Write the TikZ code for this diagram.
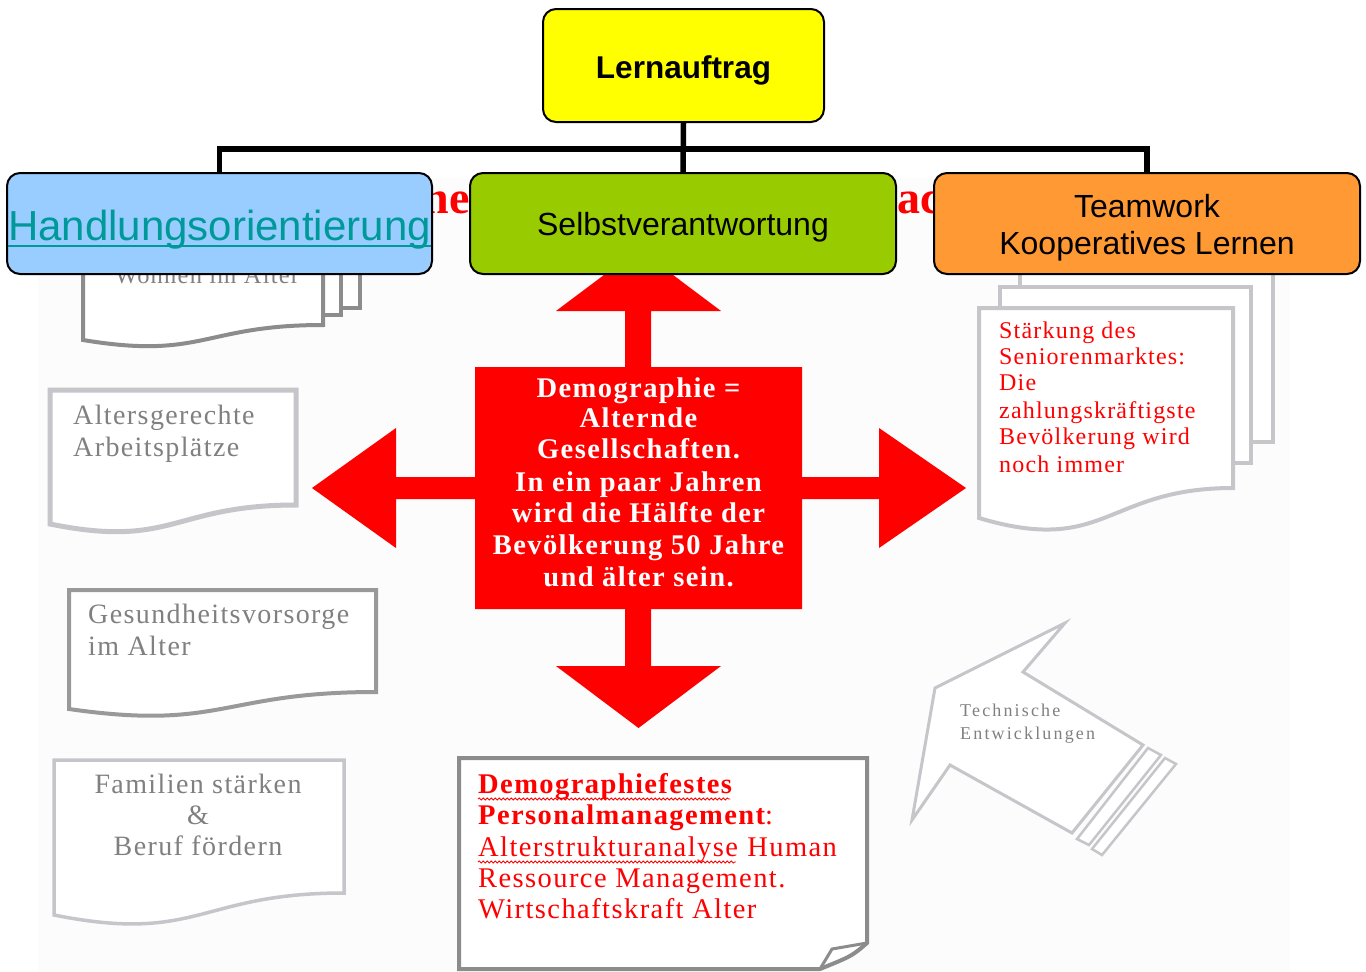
\documentclass[tikz,border=0pt]{standalone}
\usepackage{fontspec}
\setmainfont{Liberation Serif}
\newfontfamily\arialfont{Liberation Sans}
\newfontfamily\docfont[LetterSpace=5]{Liberation Serif}
\newfontfamily\techfont[LetterSpace=12]{Liberation Serif}
\newfontfamily\crossfont[LetterSpace=5]{Liberation Serif}
\usetikzlibrary{decorations.pathmorphing}
\definecolor{bgc}{RGB}{251,252,251}
\definecolor{lernyellow}{RGB}{255,255,0}
\definecolor{handblue}{RGB}{153,204,255}
\definecolor{selbgreen}{RGB}{153,204,0}
\definecolor{teamorange}{RGB}{255,153,51}
\definecolor{tealtext}{RGB}{0,153,153}
\definecolor{crossred}{RGB}{255,0,0}
\definecolor{gdark}{RGB}{140,140,140}
\definecolor{glight}{RGB}{198,198,202}
\definecolor{gmed}{RGB}{153,153,153}
\definecolor{gtext}{RGB}{128,128,128}
\begin{document}
\begin{tikzpicture}[x=1pt,y=-1pt,
  orgbox/.style={draw=black, line width=2pt, rounded corners=13pt, inner sep=0pt},
  tree/.style={draw=black, line width=5.5pt},
  orgtext/.style={font=\arialfont\fontsize{32pt}{37pt}\selectfont, inner sep=0pt, anchor=base},
  doctext/.style={font=\docfont\fontsize{28pt}{31pt}\selectfont, inner sep=0pt, text=gtext},
  redtext/.style={font=\docfont\fontsize{28.5pt}{31pt}\selectfont, inner sep=0pt, text=crossred, anchor=base west},
  smalltext/.style={font=\docfont\fontsize{24pt}{27pt}\selectfont, inner sep=0pt, text=crossred, anchor=base west},
  techtext/.style={font=\techfont\fontsize{18pt}{23pt}\selectfont, inner sep=0pt, text=gtext, anchor=base west},
  crosstext/.style={font=\crossfont\bfseries\fontsize{28.5pt}{31.5pt}\selectfont, inner sep=0pt, text=white, anchor=base},
  titlebit/.style={font=\bfseries\fontsize{46pt}{50pt}\selectfont, inner sep=0pt, text=crossred},
  sheet/.style={fill=white, line join=miter},
  wavy/.style={draw=crossred, line width=0.8pt, decorate, decoration={snake, segment length=4pt, amplitude=1.1pt}}
]
\useasboundingbox (0,0) rectangle (1366,972);
\fill[white] (0,0) rectangle (1366,972);
\fill[bgc] (38,178) rectangle (1290,972);

% hidden title fragments
\node[titlebit, anchor=base east] (tn) at (470,213) {ne};
\node[titlebit, anchor=base west] (ta) at (897,213) {ac};

% Wohnen im Alter (multi document)
\draw[sheet, draw=gdark, line width=4pt] (120,217) rectangle (360,308);
\draw[sheet, draw=gdark, line width=4pt] (101,225) rectangle (341,315);
\draw[sheet, draw=gdark, line width=4pt] (83,234) -- (323,234) -- (323,325) .. controls (203,325) and (203,360) .. (83,340) -- cycle;
\node[doctext, font=\docfont\fontsize{24.5pt}{30pt}\selectfont, anchor=base] (w1) at (207,283) {Wohnen im Alter};

% Altersgerechte Arbeitsplaetze
\draw[sheet, draw=glight, line width=5pt] (50,390) -- (296,390) -- (296,505) .. controls (173,505) and (173,549) .. (50,524) -- cycle;
\node[doctext, anchor=base west] (a1) at (73,424) {Altersgerechte};
\node[doctext, anchor=base west] (a2) at (73,456) {Arbeitsplätze};

% Gesundheitsvorsorge
\draw[sheet, draw=gmed, line width=4pt] (69,590) -- (376,590) -- (376,692) .. controls (222,692) and (222,731) .. (69,709) -- cycle;
\node[doctext, anchor=base west] (g1) at (88,623) {Gesundheitsvorsorge};
\node[doctext, anchor=base west] (g2) at (88,655) {im Alter};

% Familien
\draw[sheet, draw=glight, line width=3.5pt] (54,760) -- (344,760) -- (344,893) .. controls (199,893) and (199,944) .. (54,915) -- cycle;
\node[doctext, anchor=base] (f1) at (198,793) {Familien stärken};
\node[doctext, anchor=base] (f2) at (198,824) {\&};
\node[doctext, anchor=base] (f3) at (198,855) {Beruf fördern};

% Staerkung des Seniorenmarktes (multi document)
\draw[sheet, draw=glight, line width=4pt] (1020,266) rectangle (1273,442);
\draw[sheet, draw=glight, line width=4pt] (1000,287) rectangle (1251,463);
\draw[sheet, draw=glight, line width=4pt] (979,308) -- (1233,308) -- (1233,488) .. controls (1106,488) and (1106,556) .. (979,518) -- cycle;
\foreach \t/\y [count=\i] in {Stärkung des/338, Seniorenmarktes:/364, Die/390, zahlungskräftigste/418, Bevölkerung wird/444, noch immer/472}
  \node[smalltext] (s\i) at (999,\y) {\t};

% Demographiefestes Personalmanagement (note with folded corner)
\draw[sheet, draw=gdark, line width=4pt] (459,758) -- (867,758) -- (867,943) .. controls (852,956) .. (820,969) -- (459,969) -- cycle;
\draw[draw=gdark, line width=3pt, line join=miter] (867,943) -- (832,949) -- (820,969);
\node[redtext, font=\docfont\bfseries\fontsize{28.5pt}{31pt}\selectfont] (p1) at (478,793) {Demographiefestes};
\node[redtext] (p2) at (478,824) {{\bfseries Personalmanagement}:};
\node[redtext] (p3a) at (478,856) {Alterstrukturanalyse};
\node[redtext, anchor=base west] (p3b) at ([xshift=9pt]p3a.base east) {Human};
\node[redtext] (p4) at (478,887) {Ressource Management.};
\node[redtext] (p5) at (478,918) {Wirtschaftskraft Alter};
\draw[wavy] ([yshift=-6pt]p1.base west) -- ([yshift=-6pt,xshift=-2pt]p1.base east);
\draw[wavy] ([yshift=-6pt]p3a.base west) -- ([yshift=-6pt,xshift=-2pt]p3a.base east);

% Technische Entwicklungen (block arrow)
\draw[sheet, draw=glight, line width=3pt] (935,688) -- (1065,623) -- (1023,672) -- (1143,745) -- (1072,833) -- (950,765) -- (912,820) -- cycle;
\draw[sheet, draw=glight, line width=2.5pt] (1148,748) -- (1161,755) -- (1089,845) -- (1077,839) -- cycle;
\draw[sheet, draw=glight, line width=2.5pt] (1165,758) -- (1176,764) -- (1102,855) -- (1092,849) -- cycle;
\node[techtext] (te1) at (960,716) {Technische};
\node[techtext] (te2) at (960,739) {Entwicklungen};

% central red cross
\fill[crossred] (638.5,249) -- (721,311) -- (651,311) -- (651,367) -- (802,367) -- (802,477) -- (879,477) -- (879,428) -- (966,488) -- (879,548) -- (879,499) -- (802,499) -- (802,609) -- (651,609) -- (651,666) -- (721,666) -- (638.5,728) -- (556,666) -- (625,666) -- (625,609) -- (475,609) -- (475,499) -- (396,499) -- (396,548) -- (312,488) -- (396,428) -- (396,477) -- (475,477) -- (475,367) -- (625,367) -- (625,311) -- (556,311) -- cycle;
\foreach \t/\y [count=\i] in {Demographie =/397, Alternde/427, Gesellschaften./458, In ein paar Jahren/491, wird die Hälfte der/522, Bevölkerung 50 Jahre/554, und älter sein./586}
  \node[crosstext] (c\i) at (638.5,\y) {\t};

% org chart
\node[orgbox, fill=lernyellow, minimum width=281pt, minimum height=113pt] (L) at (683.5,65.5) {};
\node[orgbox, fill=handblue, minimum width=425pt, minimum height=101pt] (H) at (219.5,223.5) {};
\node[orgbox, fill=selbgreen, minimum width=426pt, minimum height=101pt] (S) at (683,223.5) {};
\node[orgbox, fill=teamorange, minimum width=426pt, minimum height=101pt] (T) at (1147,223.5) {};
\draw[tree] (L.south) -- (S.north);
\draw[tree] (L.south) -- ++(0,26) -| (H.north);
\draw[tree] (L.south) -- ++(0,26) -| (T.north);

\node[orgtext, font=\arialfont\bfseries\fontsize{31.5pt}{36pt}\selectfont] (Lt) at (683.5,78) {Lernauftrag};
\node[orgtext, font=\arialfont\fontsize{42pt}{48pt}\selectfont, text=tealtext] (Ht) at (219.5,240) {Handlungsorientierung};
\draw[tealtext, line width=2.2pt] ([yshift=-6pt]Ht.base west) -- ([yshift=-6pt]Ht.base east);
\node[orgtext] (St) at (683,235) {Selbstverantwortung};
\node[orgtext] (Tt1) at (1147,217) {Teamwork};
\node[orgtext] (Tt2) at (1147,254) {Kooperatives Lernen};
\end{tikzpicture}
\end{document}
